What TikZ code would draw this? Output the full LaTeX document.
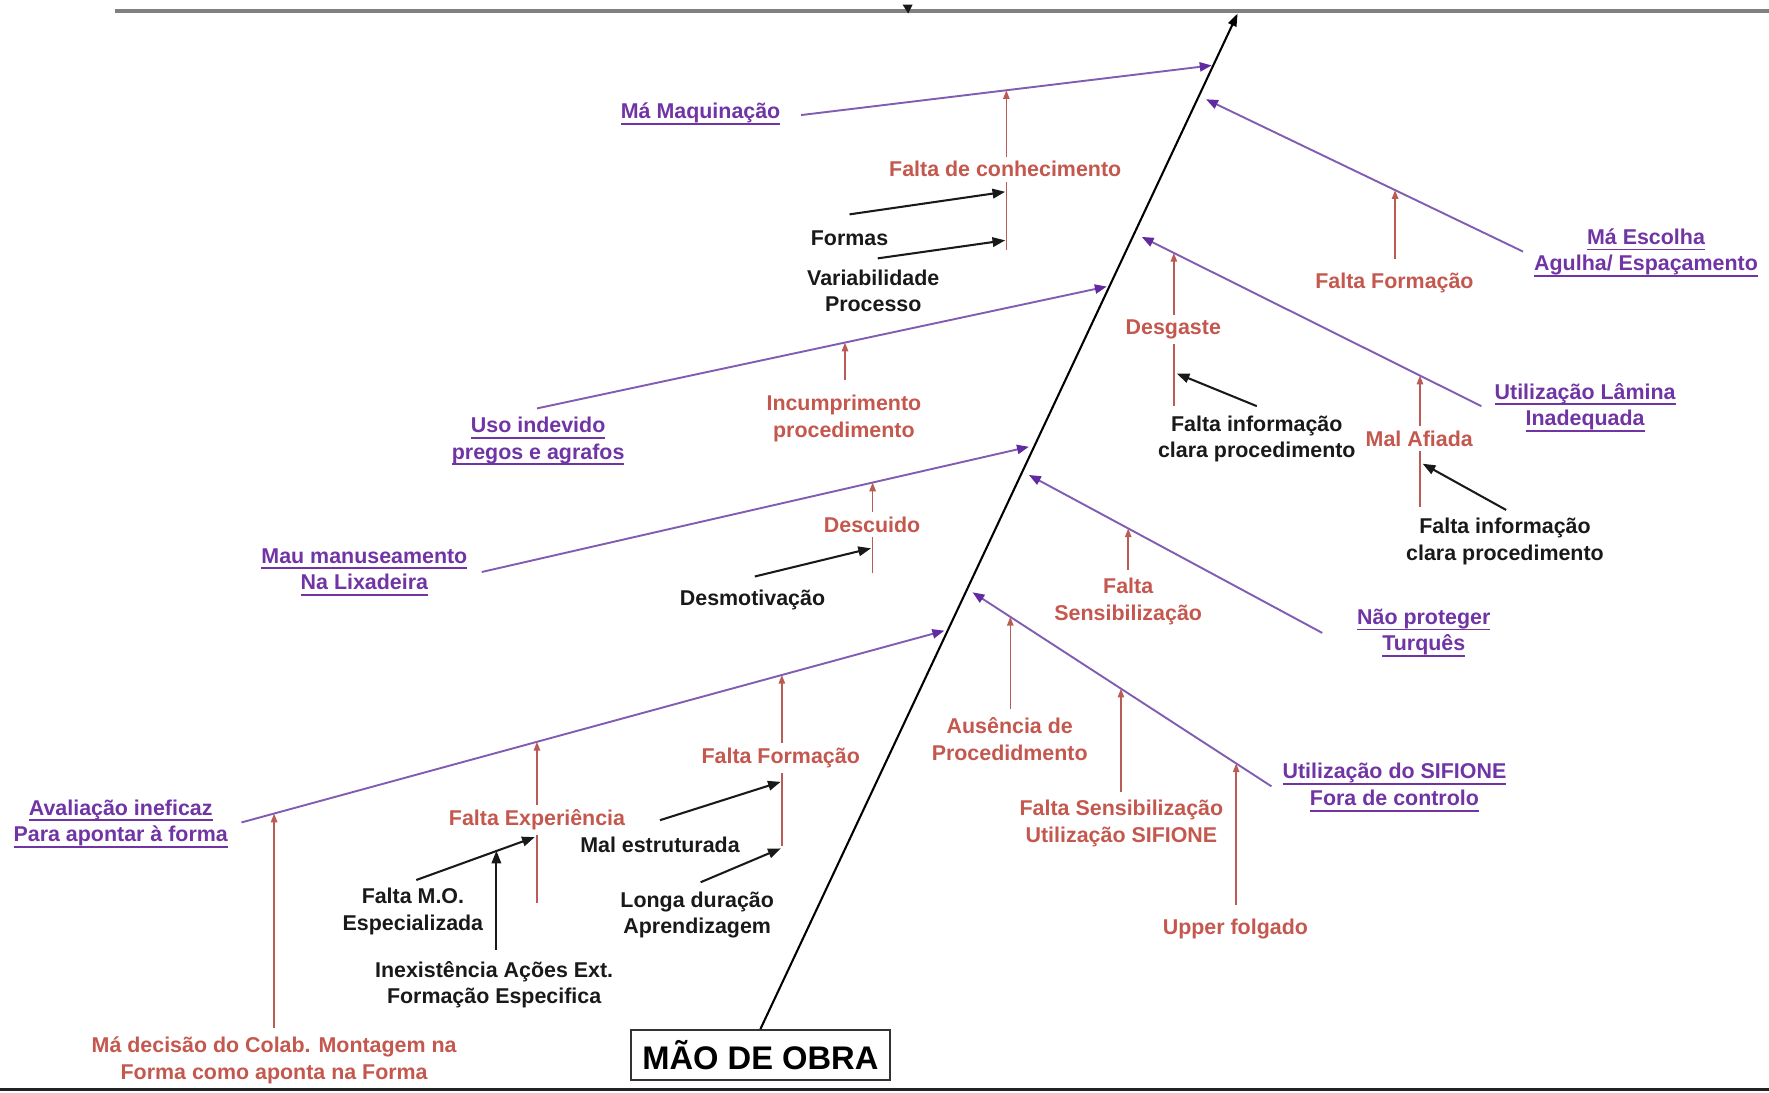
\documentclass[tikz,border=0pt]{standalone}
\usepackage{fontspec}
\setmainfont{Liberation Sans}
\usetikzlibrary{arrows.meta}

\definecolor{purpTxt}{RGB}{112,52,165}
\definecolor{purpLine}{RGB}{128,92,178}
\definecolor{purpHead}{RGB}{98,42,160}
\definecolor{redTxt}{RGB}{196,88,78}
\definecolor{redLine}{RGB}{186,92,86}
\definecolor{inkTxt}{RGB}{25,25,25}
\definecolor{topGray}{RGB}{128,128,128}
\definecolor{botInk}{RGB}{35,35,35}

% underline at a fixed distance below the baseline
\newsavebox\ulbox
\newcommand\ulx[1]{\sbox\ulbox{#1}\rlap{\rule[-3.8pt]{\wd\ulbox}{1.1pt}}\usebox\ulbox}

\begin{document}
\begin{tikzpicture}[x=0.025cm,y=-0.025cm,
  lbl/.style={font=\bfseries\fontsize{13.5}{16.7}\selectfont,align=center,inner sep=0pt},
  cause/.style={lbl,text=purpTxt},
  sub/.style={lbl,text=redTxt},
  subw/.style={sub,fill=white,inner xsep=2pt,inner ysep=3pt},
  det/.style={lbl,text=inkTxt},
  branch/.style={draw=purpLine,line width=1.2pt,-{Triangle[length=7.5pt,width=5.8pt,color=purpHead]}},
  redarr/.style={draw=redLine,line width=1pt,-{Triangle[length=5.5pt,width=4pt]}},
  blkarr/.style={draw=inkTxt,line width=1.3pt,-{Triangle[length=8pt,width=6pt]}},
  spine/.style={draw=black,line width=1.3pt,-{Triangle[length=8pt,width=5.5pt]}},
  titlebox/.style={draw=black!80,line width=1.2pt,font=\bfseries\fontsize{20.6}{24}\selectfont,
    minimum width=5.75cm,minimum height=1.1cm,inner sep=0pt}
]
\useasboundingbox (0,0) rectangle (1568,968);

% frame lines
\draw[topGray,line width=2.4pt] (102,10) -- (1568,10);
\fill[inkTxt] (800,4) -- (809,4) -- (805,12) -- cycle;
\draw[botInk,line width=2pt] (0,966) -- (1568,966);

% head box and spine
\node[titlebox] (mdo) at (674,935) {MÃO DE OBRA};
\coordinate (head) at (1097,12);
\draw[spine] (mdo.north) -- (head);

% main causes
\coordinate (b1s) at (710,102);  \coordinate (b1e) at (1074,58);
\coordinate (b2s) at (476,362);  \coordinate (b2e) at (981,254);
\coordinate (b3s) at (427,507);  \coordinate (b3e) at (912,396);
\coordinate (b4s) at (214,729);  \coordinate (b4e) at (837,559);
\coordinate (b5s) at (1350,223); \coordinate (b5e) at (1069,88);
\coordinate (b6s) at (1313,360); \coordinate (b6e) at (1012,210);
\coordinate (b7s) at (1172,561); \coordinate (b7e) at (912,421);
\coordinate (b8s) at (1127,697); \coordinate (b8e) at (862,525);
\foreach \i in {1,...,8} {\draw[branch] (b\i s) -- (b\i e);}

% attachment points on the cause lines
\path (b1s) -- (b1e) coordinate[pos=0.5] (t1);
\path (b2s) -- (b2e) coordinate[pos=0.5406] (t2);
\path (b3s) -- (b3e) coordinate[pos=0.7144] (t3);
\path (b4s) -- (b4e) coordinate[pos=0.0465] (t4a) coordinate[pos=0.4205] (t4b) coordinate[pos=0.7689] (t4c);
\path (b5s) -- (b5e) coordinate[pos=0.4036] (t5);
\path (b6s) -- (b6e) coordinate[pos=0.9053] (t6a) coordinate[pos=0.1807] (t6b);
\path (b7s) -- (b7e) coordinate[pos=0.6615] (t7);
\path (b8s) -- (b8e) coordinate[pos=0.8736] (t8a) coordinate[pos=0.5034] (t8b) coordinate[pos=0.1181] (t8c);

% feet of the sub-cause arrows
\coordinate (r1) at (892,222);
\coordinate (r2) at (749,337);
\coordinate (r3) at (773,508);
\coordinate (r4a) at (243,911);
\coordinate (r4b) at (476,800);
\coordinate (r4c) at (693,750);
\coordinate (r5) at (1236,230);
\coordinate (r6a) at (1041,360);
\coordinate (r6b) at (1259,449);
\coordinate (r7) at (1000,505);
\coordinate (r8a) at (895,628);
\coordinate (r8b) at (994,702);
\coordinate (r8c) at (1096,802);
\foreach \t/\r in {t1/r1,t2/r2,t3/r3,t4a/r4a,t4b/r4b,t4c/r4c,t5/r5,t6a/r6a,t6b/r6b,t7/r7,t8a/r8a,t8b/r8b,t8c/r8c}
  {\draw[redarr] (\t |- \r) -- (\t);}

% detail arrows
\coordinate (k1a) at (753,190);  \coordinate (k1b) at (891,170);
\coordinate (k2a) at (778,229);  \coordinate (k2b) at (891,213);
\coordinate (k3a) at (1114,360); \coordinate (k3b) at (1043,331);
\coordinate (k4a) at (1335,452); \coordinate (k4b) at (1261,411);
\coordinate (k5a) at (669,511);  \coordinate (k5b) at (772,486);
\coordinate (k6a) at (585,727);  \coordinate (k6b) at (692,693);
\coordinate (k7a) at (621,782);  \coordinate (k7b) at (692,752);
\coordinate (k8a) at (369,780);  \coordinate (k8b) at (474,742);
\foreach \i in {1,...,8} {\draw[blkarr] (k\i a) -- (k\i b);}
\path (k8a) -- (k8b) coordinate[pos=0.683] (k9b);
\coordinate (k9a) at (440,842);
\draw[blkarr] (k9a) -- (k9a |- k9b);

% cause labels
\node[cause] (c1) at (621,101) {\ulx{Má Maquinação}};
\node[cause] (c2) at (477,391) {\ulx{Uso indevido}\\\ulx{pregos e agrafos}};
\node[cause] (c3) at (323,507) {\ulx{Mau manuseamento}\\\ulx{Na Lixadeira}};
\node[cause] (c4) at (107,730) {\ulx{Avaliação ineficaz}\\\ulx{Para apontar à forma}};
\node[cause] (c5) at (1459,224) {\ulx{Má Escolha}\\\ulx{Agulha/ Espaçamento}};
\node[cause] (c6) at (1405,361) {\ulx{Utilização Lâmina}\\\ulx{Inadequada}};
\node[cause] (c7) at (1262,561) {\ulx{Não proteger}\\\ulx{Turquês}};
\node[cause] (c8) at (1236,698) {\ulx{Utilização do SIFIONE}\\\ulx{Fora de controlo}};

% sub-cause labels
\node[subw] (s1) at (891,150) {Falta de conhecimento};
\node[sub]  (s2) at (1236,251) {Falta Formação};
\node[subw] (s3) at (1040,292) {Desgaste};
\node[subw] (s4) at (1258,389) {Mal Afiada};
\node[sub]  (s5) at (748,371) {Incumprimento\\procedimento};
\node[subw] (s6) at (773,465) {Descuido};
\node[sub]  (s7) at (1000,533) {Falta\\Sensibilização};
\node[subw] (s8) at (692,672) {Falta Formação};
\node[subw] (s9) at (476,727) {Falta Experiência};
\node[sub]  (s10) at (243,940) {Má decisão do Colab. Montagem na\\Forma como aponta na Forma};
\node[sub]  (s11) at (895,655) {Ausência de\\Procedidmento};
\node[sub]  (s12) at (994,730) {Falta Sensibilização\\Utilização SIFIONE};
\node[sub]  (s13) at (1095,823) {Upper folgado};

% detail labels
\node[det] (d1) at (753,211) {Formas};
\node[det] (d2) at (774,258) {Variabilidade\\Processo};
\node[det] (d3) at (1114,389) {Falta informação\\clara procedimento};
\node[det] (d4) at (1334,480) {Falta informação\\clara procedimento};
\node[det] (d5) at (667,532) {Desmotivação};
\node[det] (d6) at (585,749) {Mal estruturada};
\node[det] (d7) at (618,811) {Longa duração\\Aprendizagem};
\node[det] (d8) at (366,808) {Falta M.O.\\Especializada};
\node[det] (d9) at (438,873) {Inexistência Ações Ext.\\Formação Especifica};
\end{tikzpicture}
\end{document}
